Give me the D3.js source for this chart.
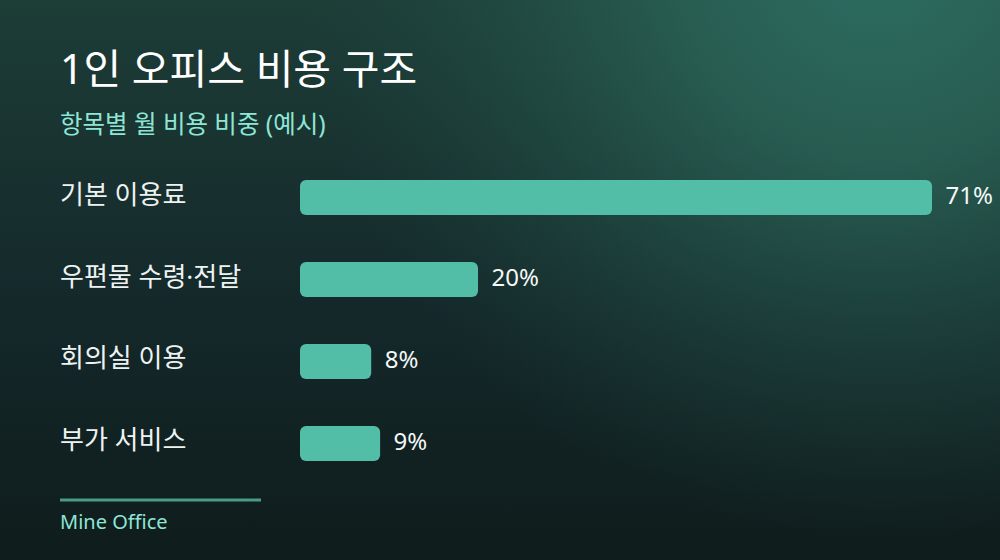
<!DOCTYPE html>
<html><head><meta charset="utf-8">
<script src="https://cdn.jsdelivr.net/npm/d3@7"></script>
<style>html,body{margin:0;padding:0;background:#10201f;}svg{display:block;}</style>
</head><body>
<svg id="c" width="1000" height="560"></svg>
<script>
const categories = ["기본 이용료", "우편물 수령·전달", "회의실 이용", "부가 서비스"];
const values = [71, 20, 8, 9];
const valueLabels = ["71%", "20%", "8%", "9%"];
const title = "1인 오피스 비용 구조";
const subtitle = "항목별 월 비용 비중 (예시)";
const footer = "Mine Office";

const svg = d3.select("#c");
const W = 1000, H = 560;
const font = "'Noto Sans','Noto Sans CJK KR',sans-serif";
const defs = svg.append("defs");
const lg = defs.append("linearGradient").attr("id","bg").attr("x1",0).attr("y1",0).attr("x2",0).attr("y2",1);
lg.append("stop").attr("offset","0%").attr("stop-color","#1d3d37");
lg.append("stop").attr("offset","55%").attr("stop-color","#14282a");
lg.append("stop").attr("offset","100%").attr("stop-color","#0f1c1c");
const rg = defs.append("radialGradient").attr("id","glow").attr("gradientUnits","userSpaceOnUse")
  .attr("cx",880).attr("cy",-40).attr("r",580);
rg.append("stop").attr("offset","0%").attr("stop-color","#2d6d61").attr("stop-opacity",1);
rg.append("stop").attr("offset","35%").attr("stop-color","#2a6256").attr("stop-opacity",0.85);
rg.append("stop").attr("offset","100%").attr("stop-color","#1f4a42").attr("stop-opacity",0);
svg.append("rect").attr("width",W).attr("height",H).attr("fill","url(#bg)");
svg.append("rect").attr("width",W).attr("height",H).attr("fill","url(#glow)");

svg.append("text").attr("x",60).attr("y",84).attr("fill","#ffffff")
  .attr("font-family",font).attr("font-size",41).attr("font-weight",400).text(title);
svg.append("text").attr("x",60).attr("y",133).attr("fill","#8ee6d6")
  .attr("font-family",font).attr("font-size",24.5).text(subtitle);

const x = d3.scaleLinear().domain([0, 71]).range([300, 932]);
const y = d3.scaleBand().domain(categories).range([180, 461]).paddingInner(0.573).paddingOuter(0);

const g = svg.append("g");
g.selectAll("rect.bar").data(values).join("rect").attr("class","bar")
  .attr("x", x(0)).attr("y",(d,i)=>y(categories[i]))
  .attr("width",d=>x(d)-x(0)).attr("height",y.bandwidth())
  .attr("rx",6).attr("ry",6).attr("fill","#53bea8");

g.selectAll("text.cat").data(categories).join("text").attr("class","cat")
  .attr("x",60).attr("y",d=>y(d)+y.bandwidth()/2+6)
  .attr("fill","#eef3f2").attr("font-family",font).attr("font-size",26).text(d=>d);

g.selectAll("text.val").data(values).join("text").attr("class","val")
  .attr("x",d=>x(d)+13.5).attr("y",(d,i)=>y(categories[i])+y.bandwidth()/2+6.5)
  .attr("fill","#f4f8f7").attr("font-family",font).attr("font-size",24).text((d,i)=>valueLabels[i]);

svg.append("line").attr("x1",60).attr("x2",261).attr("y1",500).attr("y2",500)
  .attr("stroke","#4a9a86").attr("stroke-width",3);
svg.append("text").attr("x",60).attr("y",529).attr("fill","#8ee6d6")
  .attr("font-family",font).attr("font-size",20).text(footer);
</script>
</body></html>
